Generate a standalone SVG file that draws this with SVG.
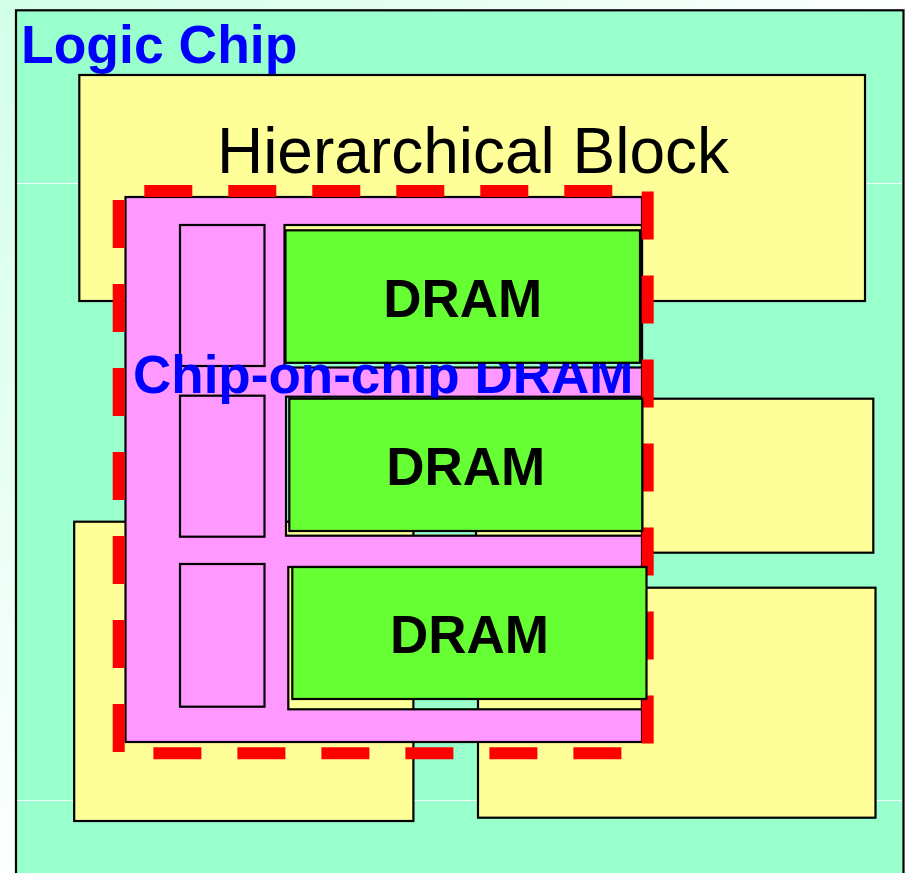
<svg xmlns="http://www.w3.org/2000/svg" width="905" height="873" viewBox="0 0 905 873">
<defs>
<radialGradient id="bg" cx="0" cy="0" r="1" gradientUnits="userSpaceOnUse" gradientTransform="scale(950)">
<stop offset="0" stop-color="#D2FFE9"/>
<stop offset="1" stop-color="#FFFFFF"/>
</radialGradient>
<style>
.blk{fill:#FFFF99;stroke:#000;stroke-width:2.2}
.pink{fill:#FF99FF;stroke:#000;stroke-width:2.2}
.frame{fill:none;stroke:#000;stroke-width:2.2}
.dram{fill:#66FF33;stroke:#000;stroke-width:2.2}
.dtxt{font-family:"Liberation Sans",Arial,sans-serif;font-weight:bold;font-size:53px;fill:#000;text-anchor:middle}
.title{font-family:"Liberation Sans",Arial,sans-serif;font-weight:bold;fill:#0000FF}
.grid{stroke:#FFFFFF;stroke-width:1.2;opacity:0.9}
</style>
</defs>
<rect x="0" y="0" width="905" height="873" fill="url(#bg)"/>
<g id="logic-chip">
<rect x="16" y="10.3" width="887.5" height="880" fill="#99FFCC" stroke="#000" stroke-width="2.2"/>
<line class="grid" x1="17" y1="183.5" x2="902" y2="183.5"/>
<line class="grid" x1="17" y1="800.5" x2="902" y2="800.5"/>
<text class="title" x="21" y="63.3" font-size="53.5">Logic Chip</text>
</g>
<g id="hierarchical-block">
<rect class="blk" x="79.3" y="75" width="785.7" height="226"/>
<text x="473" y="173.3" font-family="'Liberation Sans',Arial,sans-serif" font-size="64" fill="#000" text-anchor="middle">Hierarchical Block</text>
</g>
<g id="block-right-middle"><rect class="blk" x="476" y="398.7" width="397.3" height="154"/></g>
<g id="block-bottom-right"><rect class="blk" x="478" y="587.7" width="397.5" height="230"/></g>
<g id="block-bottom-left"><rect class="blk" x="74.2" y="521.7" width="339.2" height="299.3"/></g>
<g id="chip-on-chip-dram">
<path fill="#FF99FF" fill-rule="evenodd" d="M125.5,197H642V742H125.5Z M284.5,225H642V367.5H284.5Z M286,396.7H642V535.7H286Z M288.3,567H642V709.3H288.3Z"/>
<rect x="125.5" y="197" width="516.5" height="545" fill="none" stroke="#000" stroke-width="2.2"/>
<rect class="pink" x="180" y="225" width="84.5" height="141"/>
<rect class="pink" x="180" y="395.7" width="84.5" height="141"/>
<rect class="pink" x="180" y="564" width="84.5" height="142.7"/>
<rect class="frame" x="284.5" y="225" width="357.5" height="142.5"/>
<rect class="frame" x="286" y="396.7" width="356" height="139"/>
<rect class="frame" x="288.3" y="567" width="353.7" height="142.3"/>
<text class="title" x="133" y="393.3" font-size="53">Chip-on-chip DRAM</text>
<rect x="118.7" y="191" width="529" height="562.3" fill="none" stroke="#FF0000" stroke-width="12" stroke-dasharray="48 36" stroke-dashoffset="58.4"/>
</g>
<g id="dram-1">
<rect class="dram" x="285.5" y="230.3" width="354.5" height="132.5"/>
<text class="dtxt" x="462.8" y="316.7">DRAM</text>
</g>
<g id="dram-2">
<rect class="dram" x="289.3" y="398.7" width="353" height="132.3"/>
<text class="dtxt" x="465.8" y="485">DRAM</text>
</g>
<g id="dram-3">
<rect class="dram" x="292.3" y="567" width="354.2" height="132"/>
<text class="dtxt" x="469.4" y="653.3">DRAM</text>
</g>
<g id="connectors"/>
</svg>
